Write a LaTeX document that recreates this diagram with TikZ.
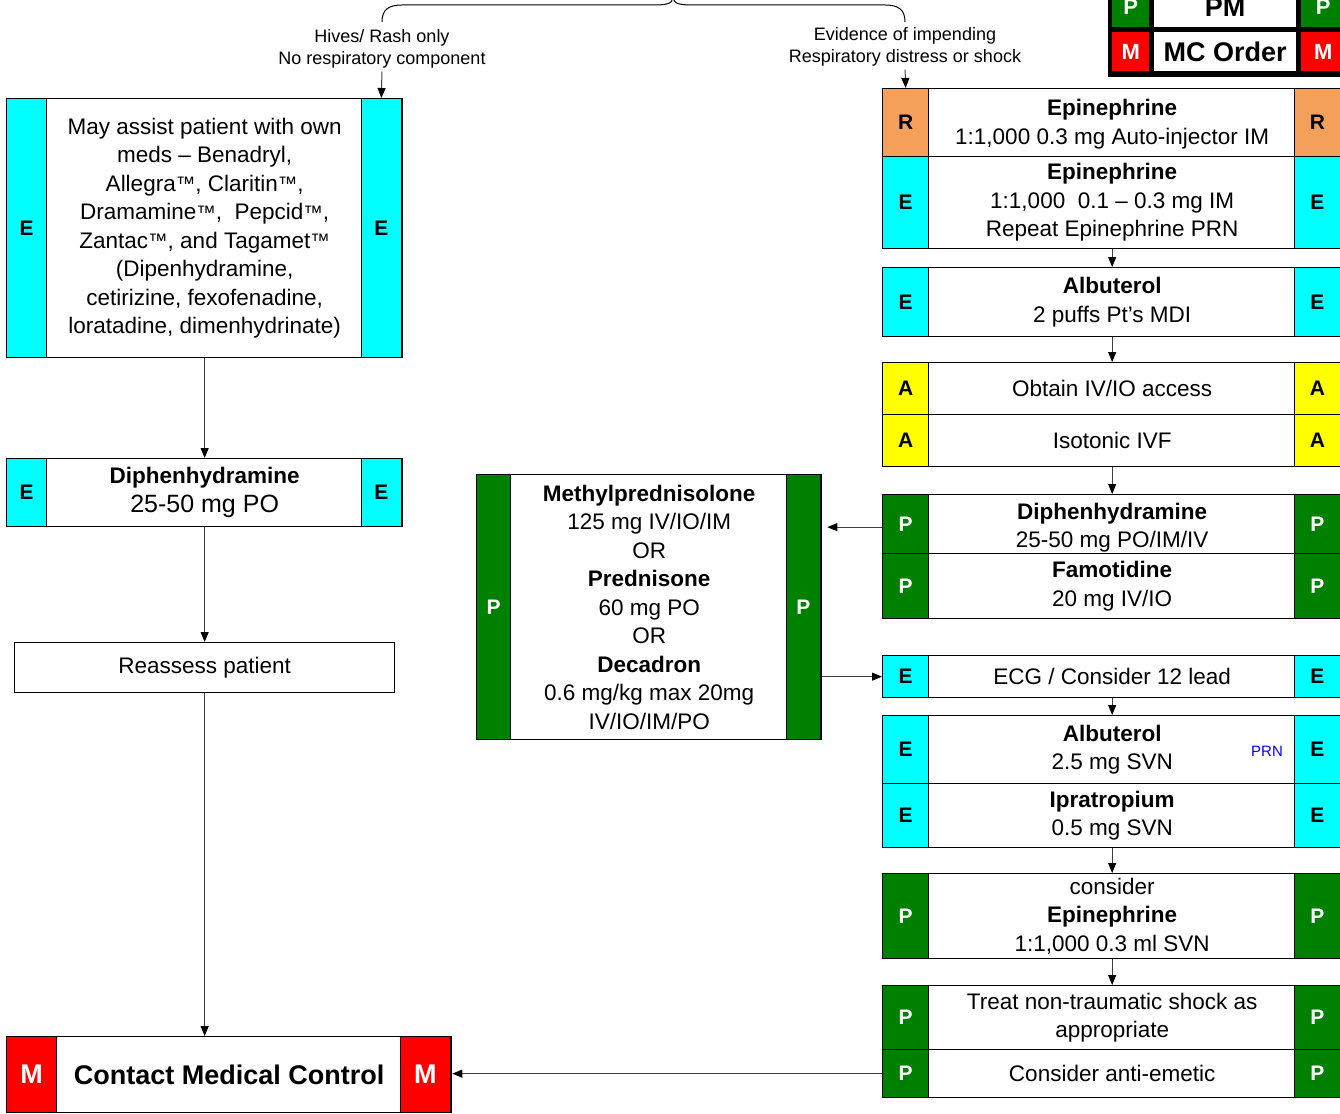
\documentclass[tikz,border=0pt]{standalone}
\usepackage{fontspec}
\setmainfont{Liberation Sans}
\usetikzlibrary{arrows.meta}
\definecolor{cy}{HTML}{00FFFF}
\definecolor{org}{HTML}{F4A05A}
\definecolor{yel}{HTML}{FFFF00}
\definecolor{grn}{HTML}{008000}
\definecolor{rd}{HTML}{FF0000}
\definecolor{prnblue}{HTML}{0000FF}
\newcommand\tmk{\raisebox{0.5pt}{\fontsize{19.5}{19.5}\selectfont ™}}
\tikzset{
 frame/.style={draw=black, line width=1.3pt, fill=white, inner sep=0pt, rectangle},
 cellE/.style={fill=cy, text=black},
 cellR/.style={fill=org, text=black},
 cellA/.style={fill=yel, text=black},
 cellP/.style={fill=grn, text=white},
 cellM/.style={fill=rd, text=white},
 cell/.style={draw=black, line width=1.3pt, inner sep=0pt, font=\fontsize{21}{24}\selectfont\bfseries},
 txt/.style={align=center, inner sep=0pt, font=\fontsize{22.5}{28.5}\selectfont},
 lbl/.style={align=center, inner sep=0pt, font=\fontsize{18}{22}\selectfont},
 legcell/.style={inner sep=0pt, anchor=north west, font=\fontsize{22}{24}\selectfont\bfseries},
 arr/.style={draw=black!75, line width=1pt, -{Triangle[length=10pt,width=8pt,color=black]}},
 bracest/.style={draw=black, line width=1pt},
 dphtxt/.style={yshift=-3.5pt},
 ertxt/.style={yshift=-1.5pt},
}
\newcommand\abox[9]{%
 \node[frame, minimum width={#4-#2}, minimum height={#5-#3}, anchor=north west] (#1) at (#2,#3) {};
 \node[cell, #7, minimum width=#6, minimum height={#5-#3}, anchor=north west] (#1L) at (#2,#3) {#8};
 \node[cell, #7, minimum width=#6, minimum height={#5-#3}, anchor=north east] (#1R) at (#4,#3) {#8};
 \node[txt, #1txt/.try] (#1T) at (#1.center) {#9};
}
\begin{document}
\begin{tikzpicture}[x=1pt,y=-1pt]
\useasboundingbox (0,0) rectangle (1340,1113);

% legend
\node[fill=black, minimum width=237, minimum height=97, anchor=north west, inner sep=0pt] (leg) at (1108,-20) {};
\node[legcell, fill=grn, text=white, minimum width=37, minimum height=40] (lp1) at (1112,-13) {P};
\node[legcell, fill=white, minimum width=142, minimum height=40, font=\fontsize{27}{30}\selectfont\bfseries] (lpm) at (1154,-13) {PM};
\node[legcell, fill=grn, text=white, minimum width=44, minimum height=40] (lp2) at (1301,-13) {P};
\node[legcell, fill=rd, text=white, minimum width=37, minimum height=39] (lm1) at (1112,32) {M};
\node[legcell, fill=white, minimum width=142, minimum height=39, font=\fontsize{27}{30}\selectfont\bfseries] (lmc) at (1154,32) {MC Order};
\node[legcell, fill=rd, text=white, minimum width=44, minimum height=39] (lm2) at (1301,32) {M};

% brace
\draw[bracest] (382,22) .. controls (382,10) and (388,5) .. (402,5) -- (652,5)
  .. controls (666,5) and (672,4) .. (673,-2)
  .. controls (674,4) and (680,5) .. (694,5) -- (885,5)
  .. controls (899,5) and (905,10) .. (905,22);

% labels
\node[lbl] (hives) at (382,49) {Hives/ Rash only\\No respiratory component};
\node[lbl] (evid) at (905,47) {Evidence of impending\\Respiratory distress or shock};

% left column
\abox{hb}{6}{98}{402}{357}{40}{cellE}{E}{May assist patient with own\\meds – Benadryl,\\Allegra\tmk, Claritin\tmk,\\Dramamine\tmk,\ \ Pepcid\tmk,\\Zantac\tmk, and Tagamet\tmk\\(Dipenhydramine,\\cetirizine, fexofenadine,\\loratadine, dimenhydrinate)}
\abox{dl}{6}{458}{402}{526}{40}{cellE}{E}{\textbf{Diphenhydramine}\\{\fontsize{25}{28.5}\selectfont 25-50 mg PO}}
\node[frame, minimum width=380, minimum height=50, anchor=north west, font=\fontsize{22.5}{28.5}\selectfont] (reas) at (14,642) {Reassess patient};
\abox{cmc}{6}{1036}{451}{1112}{50}{cellM, font=\fontsize{27}{30}\selectfont\bfseries}{M}{\fontsize{27}{30}\selectfont\bfseries Contact Medical Control}

% middle
\abox{meth}{476}{474}{821}{739}{34}{cellP}{P}{\textbf{Methylprednisolone}\\125 mg IV/IO/IM\\OR\\\textbf{Prednisone}\\60 mg PO\\OR\\\textbf{Decadron}\\0.6 mg/kg max 20mg\\IV/IO/IM/PO}

% right column
\abox{er}{882}{88}{1341}{156}{46}{cellR}{R}{\textbf{Epinephrine}\\1:1,000 0.3 mg Auto-injector IM}
\abox{ee}{882}{156}{1341}{248}{46}{cellE}{E}{\textbf{Epinephrine}\\1:1,000\ \ 0.1 – 0.3 mg IM\\Repeat Epinephrine PRN}
\abox{alb}{882}{267}{1341}{336}{46}{cellE}{E}{\textbf{Albuterol}\\2 puffs Pt’s MDI}
\abox{iv}{882}{362}{1341}{414}{46}{cellA}{A}{Obtain IV/IO access}
\abox{ivf}{882}{414}{1341}{466}{46}{cellA}{A}{Isotonic IVF}
\abox{dph}{882}{494}{1341}{553}{46}{cellP}{P}{\textbf{Diphenhydramine}\\25-50 mg PO/IM/IV}
\abox{fam}{882}{553}{1341}{618}{46}{cellP}{P}{\textbf{Famotidine}\\20 mg IV/IO}
\abox{ecg}{882}{655}{1341}{697}{46}{cellE}{E}{ECG / Consider 12 lead}
\abox{alb2}{882}{715}{1341}{783}{46}{cellE}{E}{\textbf{Albuterol}\\2.5 mg SVN}
\node[inner sep=0pt, font=\fontsize{15}{15}\selectfont, text=prnblue] (prn) at (1267,751) {PRN};
\abox{ipr}{882}{783}{1341}{847}{46}{cellE}{E}{\textbf{Ipratropium}\\0.5 mg SVN}
\abox{cepi}{882}{873}{1341}{958}{46}{cellP}{P}{consider\\\textbf{Epinephrine}\\1:1,000 0.3 ml SVN}
\abox{shk}{882}{985}{1341}{1049}{46}{cellP}{P}{Treat non-traumatic shock as\\appropriate}
\abox{ant}{882}{1049}{1341}{1097}{46}{cellP}{P}{Consider anti-emetic}

% connectors
\draw[arr, shorten <=3pt] (hives.south) -- (hbR.north);
\draw[arr, shorten <=3pt] (evid.south) -- (erL.north);
\draw[arr] (hb.south) -- (dl.north);
\draw[arr] (dl.south) -- (reas.north);
\draw[arr] (reas.south) -- (reas.south |- cmc.north);
\draw[arr] (ant.west) -- (ant.west -| cmc.east);
\draw[arr] (ee.south) -- (alb.north);
\draw[arr] (alb.south) -- (iv.north);
\draw[arr] (ivf.south) -- (dph.north);
\draw[arr, shorten >=5pt] ([yshift=-3pt]dph.west) -- ([yshift=-3pt]dph.west -| meth.east);
\draw[arr] (meth.east |- ecg.west) -- (ecg.west);
\draw[arr] (ecg.south) -- (alb2.north);
\draw[arr] (ipr.south) -- (cepi.north);
\draw[arr] (cepi.south) -- (shk.north);
\end{tikzpicture}
\end{document}
